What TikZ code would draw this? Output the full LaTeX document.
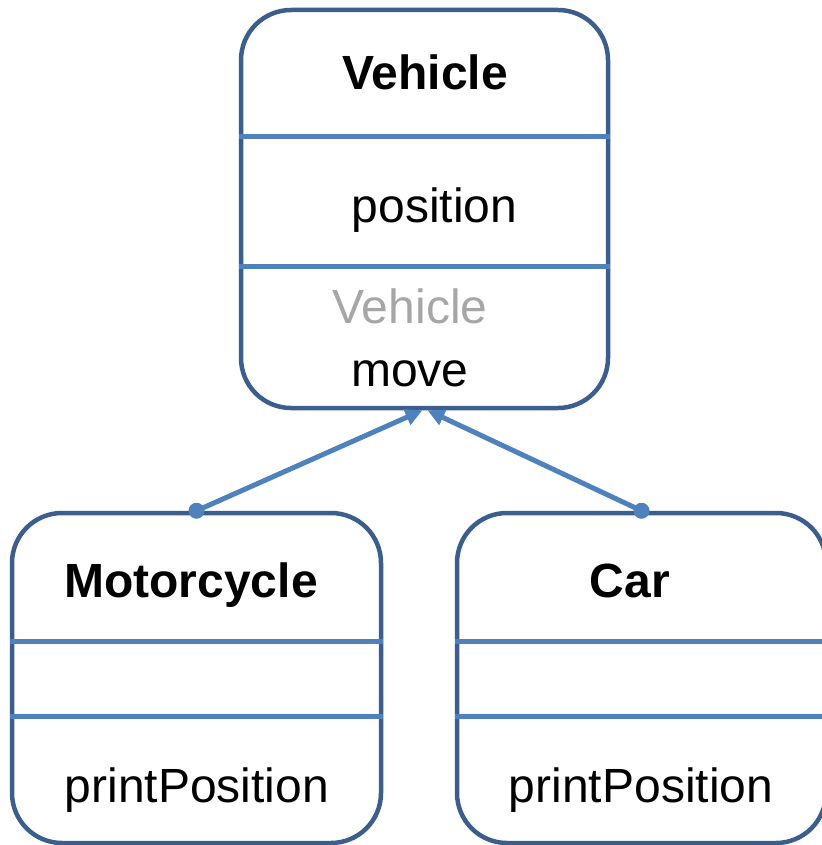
\documentclass[tikz,border=0pt]{standalone}
\usepackage{fontspec}
\setmainfont{Liberation Sans}
\usetikzlibrary{arrows.meta,calc}
\definecolor{BoxClr}{RGB}{59,94,140}
\definecolor{SepClr}{RGB}{79,129,189}
\definecolor{GrayClr}{RGB}{166,166,166}

\tikzset{
  classbox/.style={draw=BoxClr,line width=4.5pt,rounded corners=50pt,
    minimum width=369pt,inner sep=0pt},
  sepline/.style={draw=SepClr,line width=5pt},
  label/.style={anchor=base,inner sep=0pt,
    font=\fontsize{48}{57}\selectfont},
  inherit/.style={draw=SepClr,line width=5pt,
    -{Triangle[length=17pt,width=16pt]}}
}

\begin{document}
\begin{tikzpicture}[x=1pt,y=-1pt]
\useasboundingbox (0,0) rectangle (821,845);

\node[classbox,minimum width=367pt,minimum height=398pt] (vehicle) at (424.5,209) {};
\node[classbox,minimum height=330pt] (moto) at (196.5,678) {};
\node[classbox,minimum height=330pt] (car) at (641.5,678) {};

% compartments
\coordinate (vA) at (0,137);
\coordinate (vB) at (0,266);
\coordinate (lA) at (0,641);
\coordinate (lB) at (0,716);
\foreach \y in {vA,vB}
  \draw[sepline] (vehicle.west |- \y) -- (vehicle.east |- \y);
\foreach \b in {moto,car}
  \foreach \y in {lA,lB}
    \draw[sepline] (\b.west |- \y) -- (\b.east |- \y);

\node[label,font=\fontsize{48}{57}\selectfont\bfseries] (vname) at (425,90) {Vehicle};
\node[label] (vattr) at (434.5,222) {position};
\node[label,text=GrayClr] (vctor) at (410,323) {Vehicle};
\node[label] (vop) at (410,386) {move};

\node[label,font=\fontsize{48}{57}\selectfont\bfseries] (mname) at (191,597) {Motorcycle};
\node[label] (mop) at (197,802) {printPosition};

\node[label,font=\fontsize{48}{57}\selectfont\bfseries] (cname) at (630,597) {Car};
\node[label] (cop) at (641,802) {printPosition};

% generalisation
\draw[inherit] (moto.north) -- ($(vehicle.south)+(-2,0)$);
\draw[inherit] (car.north) -- ($(vehicle.south)+(3,0)$);
\fill[SepClr] (moto.north) circle (8pt);
\fill[SepClr] (car.north) circle (8pt);

\end{tikzpicture}
\end{document}
